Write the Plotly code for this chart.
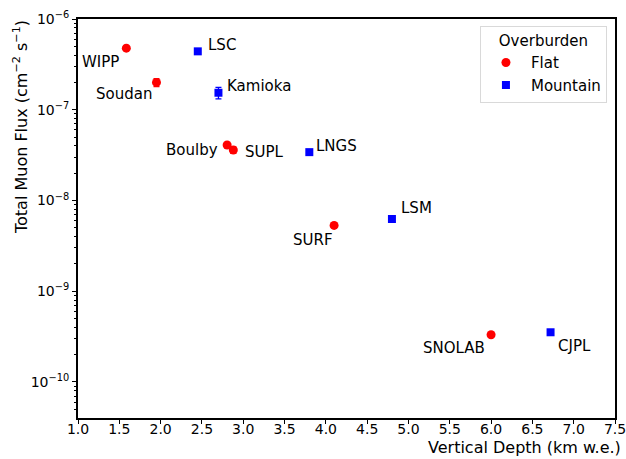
import plotly.graph_objects as go
import numpy as np

# Data
flat_labs = ["WIPP", "Soudan", "Boulby", "SUPL", "SURF", "SNOLAB"]
flat_depth = [1.585, 1.95, 2.805, 2.88, 4.10, 6.00]
flat_flux = [4.77e-7, 2.0e-7, 4.09e-8, 3.6e-8, 5.31e-9, 3.31e-10]
flat_err = [0.09e-7, 0.2e-7, 0.15e-8, 0.3e-8, 0.17e-9, 0.1e-10]

mnt_labs = ["LSC", "Kamioka", "LNGS", "LSM", "CJPL"]
mnt_depth = [2.45, 2.70, 3.80, 4.80, 6.72]
mnt_flux = [4.4e-7, 1.54e-7, 3.41e-8, 6.25e-9, 3.53e-10]
mnt_err = [0.1e-7, 0.22e-7, 0.01e-8, 0.2e-9, 0.18e-10]

# label offsets in pixels (xshift, yshift, xanchor)
flat_off = [(-26, -14, "center"), (-32, -12, "center"), (-7, -5, "right"), (10, -2, "left"), (-21, -15, "center"), (-37, -13, "center")]
mnt_off = [(8, 6, "left"), (7, 7, "left"), (5, 6, "left"), (7, 11, "left"), (5, -14, "left")]

FONT = "DejaVu Sans"
fig = go.Figure()
fig.add_trace(go.Scatter(
    x=flat_depth, y=flat_flux, mode="markers", name="Flat",
    marker=dict(symbol="circle", size=9, color="red"),
    error_y=dict(type="data", array=flat_err, color="red", thickness=1.3, width=3),
))
fig.add_trace(go.Scatter(
    x=mnt_depth, y=mnt_flux, mode="markers", name="Mountain",
    marker=dict(symbol="square", size=8, color="blue"),
    error_y=dict(type="data", array=mnt_err, color="blue", thickness=1.3, width=3),
))

for labs, xs, ys, offs in [(flat_labs, flat_depth, flat_flux, flat_off), (mnt_labs, mnt_depth, mnt_flux, mnt_off)]:
    for lab, x, y, (dx, dy, xa) in zip(labs, xs, ys, offs):
        fig.add_annotation(x=x, y=np.log10(y), text=lab, showarrow=False,
                           xshift=dx, yshift=dy, xanchor=xa, yanchor="middle",
                           font=dict(family=FONT, size=15, color="black"))

xticks = [1.0 + 0.5 * i for i in range(14)]
ydec = [-10, -9, -8, -7, -6]
minor_vals = [m * 10.0 ** d for d in range(-11, -6) for m in range(2, 10)]

fig.update_layout(
    width=626, height=459,
    margin=dict(l=78, r=11, t=19, b=41, autoexpand=False),
    paper_bgcolor="white", plot_bgcolor="white",
    font=dict(family=FONT, size=14, color="black"),
    showlegend=True,
    legend=dict(
        title=dict(text="Overburden", font=dict(family=FONT, size=15), side="top center"),
        x=0.985, y=0.983, xanchor="right", yanchor="top",
        bordercolor="#d9d9d9", borderwidth=1, bgcolor="rgba(255,255,255,0.8)",
        font=dict(family=FONT, size=15), itemwidth=40,
    ),
    xaxis=dict(
        range=[1.0, 7.5], tickvals=xticks, ticktext=[f"{v:.1f}" for v in xticks],
        showgrid=False, zeroline=False, showline=True, linecolor="black", linewidth=2,
        mirror=True, ticks="", tickfont=dict(family=FONT, size=14), automargin=False,
        ticklabeloverflow="allow", ticklabelstandoff=-3,
        minor=dict(tickvals=xticks, ticks="outside", ticklen=4, tickwidth=1.2, tickcolor="black", showgrid=False),
    ),
    yaxis=dict(
        type="log", range=[-10.397, -6],
        tickvals=[10.0 ** d for d in ydec],
        ticktext=[f"10<sup>\u2212{-d}</sup>" for d in ydec],
        showgrid=False, zeroline=False, showline=True, linecolor="black", linewidth=2,
        mirror=True, ticks="outside", ticklen=4, tickwidth=1.2, tickcolor="black",
        tickfont=dict(family=FONT, size=14), automargin=False,
        minor=dict(tickvals=minor_vals, ticks="outside", ticklen=2, tickwidth=0.8, tickcolor="black", showgrid=False),
    ),
)

fig.add_annotation(xref="paper", yref="paper", x=1.0, y=0, xshift=8, yshift=-29,
                   xanchor="right", yanchor="middle",
                   text="Vertical Depth (km w.e.)", showarrow=False,
                   font=dict(family=FONT, size=16, color="black"))
fig.add_annotation(xref="paper", yref="paper", x=0, y=1.0, xshift=-58, yshift=1,
                   xanchor="center", yanchor="top",
                   text="Total Muon Flux (cm<sup>\u22122</sup> s<sup>\u22121</sup>)", textangle=-90, showarrow=False,
                   font=dict(family=FONT, size=16, color="black"))

fig.write_html("out.html", config={"displayModeBar": False},
               post_script="document.body.style.margin='0';document.body.style.overflow='hidden';")
